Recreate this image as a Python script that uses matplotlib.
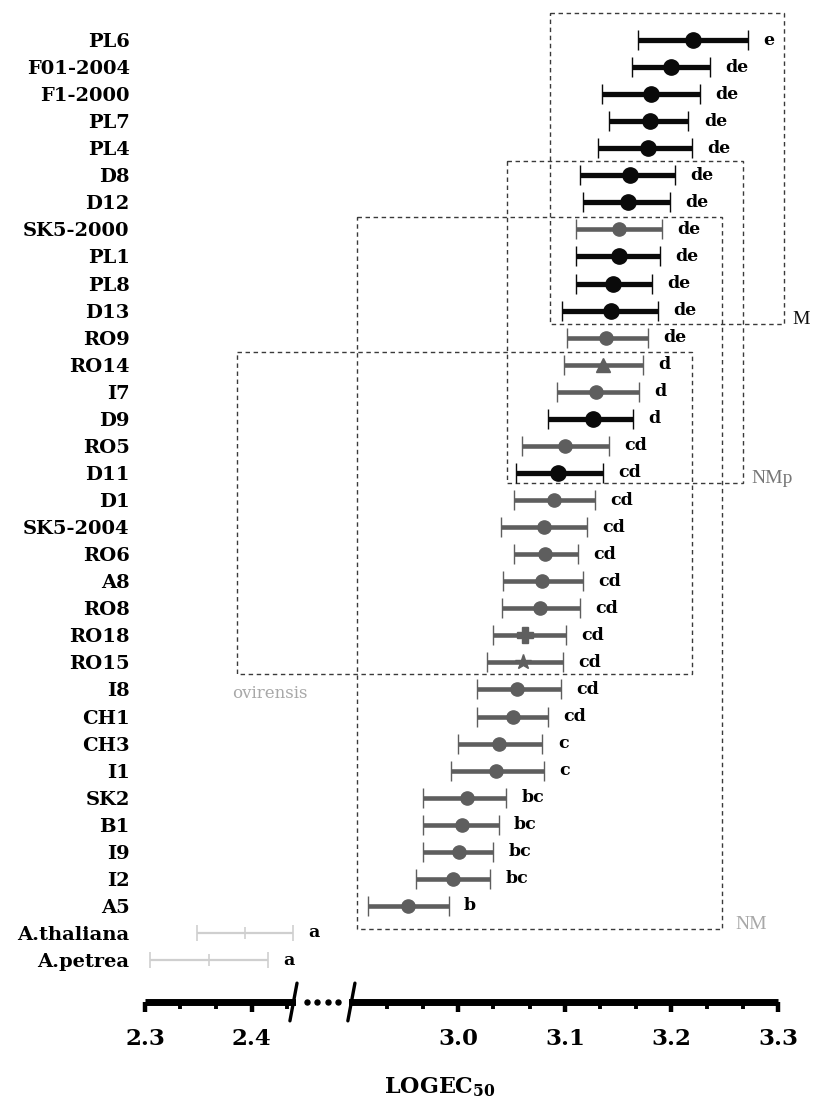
import numpy as np
import matplotlib
matplotlib.use('Agg')
import matplotlib.pyplot as plt
from matplotlib.patches import Rectangle
from matplotlib.ticker import FixedLocator, FixedFormatter

" DATA "

# populations, top to bottom
labels = ['PL6', 'F01-2004', 'F1-2000', 'PL7', 'PL4', 'D8', 'D12', 'SK5-2000',
          'PL1', 'PL8', 'D13', 'RO9', 'RO14', 'I7', 'D9', 'RO5', 'D11', 'D1',
          'SK5-2004', 'RO6', 'A8', 'RO8', 'RO18', 'RO15', 'I8', 'CH1', 'CH3',
          'I1', 'SK2', 'B1', 'I9', 'I2', 'A5', 'A.thaliana', 'A.petrea']

# log EC50 mean and interval ends
mean = [3.220, 3.200, 3.181, 3.180, 3.178, 3.161, 3.159, 3.151, 3.151, 3.145,
        3.143, 3.139, 3.136, 3.129, 3.126, 3.100, 3.094, 3.090, 3.080, 3.081,
        3.079, 3.077, 3.063, 3.061, 3.055, 3.051, 3.038, 3.035, 3.008, 3.003,
        3.001, 2.995, 2.953, 2.394, 2.360]
lower = [3.169, 3.163, 3.135, 3.141, 3.131, 3.114, 3.117, 3.110, 3.110, 3.110,
         3.097, 3.102, 3.099, 3.093, 3.084, 3.060, 3.054, 3.052, 3.040, 3.052,
         3.042, 3.041, 3.033, 3.027, 3.018, 3.018, 3.000, 2.993, 2.967, 2.967,
         2.967, 2.960, 2.915, 2.349, 2.305]
upper = [3.272, 3.236, 3.227, 3.216, 3.219, 3.203, 3.199, 3.191, 3.189, 3.182,
         3.187, 3.178, 3.173, 3.170, 3.164, 3.141, 3.136, 3.128, 3.121, 3.112,
         3.117, 3.114, 3.101, 3.098, 3.096, 3.084, 3.079, 3.080, 3.045, 3.038,
         3.033, 3.030, 2.991, 2.439, 2.415]

# significance groups
groups = ['e', 'de', 'de', 'de', 'de', 'de', 'de', 'de', 'de', 'de', 'de', 'de',
          'd', 'd', 'd', 'cd', 'cd', 'cd', 'cd', 'cd', 'cd', 'cd', 'cd', 'cd',
          'cd', 'cd', 'c', 'c', 'bc', 'bc', 'bc', 'bc', 'b', 'a', 'a']

# k = black (M), g = grey (NM), l = outgroup species
kind = ['k', 'k', 'k', 'k', 'k', 'k', 'k', 'g', 'k', 'k', 'k', 'g', 'g', 'g',
        'k', 'g', 'k', 'g', 'g', 'g', 'g', 'g', 'g', 'g', 'g', 'g', 'g', 'g',
        'g', 'g', 'g', 'g', 'g', 'l', 'l']

# dashed group boxes: name, x from, x to, row from, row to
box_names = ['M', 'NMp', 'ovirensis', 'NM']
box_x0 = [3.086, 3.046, 2.386, 2.905]
box_x1 = [3.306, 3.267, 3.219, 3.247]
box_r0 = [-1.0, 4.47, 11.53, 6.54]
box_r1 = [10.5, 16.37, 23.43, 32.85]

major_ticks = [2.3, 2.4, 3.0, 3.1, 3.2, 3.3]
major_labels = ['2.3', '2.4', '3.0', '3.1', '3.2', '3.3']
minor_ticks = [2.333, 2.367, 2.433, 2.933, 2.967, 3.033, 3.067,
               3.133, 3.167, 3.233, 3.267]

# axis break
BREAK_LO = 2.442
BREAK_HI = 2.897
GAP = 0.049

" STYLE "

colors = {'k': '#0a0a0a', 'g': '#5e5e5e', 'l': '#cfcfcf'}
markers = {'RO14': '^', 'RO18': 'P', 'RO15': '*'}
box_label_colors = {'M': '#111111', 'NMp': '#777777',
                    'ovirensis': '#a8a8a8', 'NM': '#a8a8a8'}

plt.rcParams['mathtext.fontset'] = 'dejavuserif'
SERIF = ['DejaVu Serif']


def fwd(x):
    xs = [1.0, BREAK_LO, BREAK_HI, 5.0]
    ps = [1.0, BREAK_LO, BREAK_LO + GAP, BREAK_LO + GAP + 5.0 - BREAK_HI]
    return np.interp(x, xs, ps)


def inv(p):
    xs = [1.0, BREAK_LO, BREAK_HI, 5.0]
    ps = [1.0, BREAK_LO, BREAK_LO + GAP, BREAK_LO + GAP + 5.0 - BREAK_HI]
    return np.interp(p, ps, xs)


fig = plt.figure(figsize=(8.18, 11), dpi=100)
ax = fig.add_axes([145 / 818, 98 / 1100, 633 / 818, 992 / 1100])
ax.set_xscale('function', functions=(fwd, inv))
ax.set_xlim(2.3, 3.3)
ax.set_ylim(35.55, -1.109)

rows = np.arange(len(labels))

for i in rows:
    k = kind[i]
    m = markers.get(labels[i], 'o')
    if k == 'k':
        lw, ms, cs, ct = 3.8, 11, 7, 3.4
    elif k == 'g':
        lw, ms, cs, ct = 3.3, 9.5, 7, 3.0
    else:
        lw, ms, cs, ct = 1.6, 0, 5.5, 1.4
    if m in ('*', 'P'):
        ms = ms + 2
    ax.errorbar(mean[i], i,
                xerr=[[mean[i] - lower[i]], [upper[i] - mean[i]]],
                fmt=m if k != 'l' else '|', color=colors[k], ecolor=colors[k],
                ms=ms if k != 'l' else 9, mew=1.0 if k != 'l' else 1.2,
                elinewidth=lw, capsize=cs, capthick=ct, zorder=3)
    ax.annotate(groups[i], (upper[i], i), xytext=(11, 0),
                textcoords='offset points', ha='left', va='center',
                fontsize=12.5, fontweight='bold', family=SERIF, color='black')

# group boxes
for j in range(len(box_names)):
    rect = Rectangle((box_x0[j], box_r0[j]), box_x1[j] - box_x0[j],
                     box_r1[j] - box_r0[j], fill=False, ec='#3a3a3a',
                     lw=1.0, ls=(0, (3.2, 2.6)), zorder=1, clip_on=False)
    ax.add_patch(rect)
    name = box_names[j]
    if name == 'ovirensis':
        ax.annotate(name, (box_x0[j], box_r1[j]), xytext=(-3, -8),
                    textcoords='offset points', ha='left', va='top',
                    fontsize=12, family=SERIF, color=box_label_colors[name],
                    annotation_clip=False)
    else:
        off = 10 if name == 'NM' else 6
        ax.annotate(name, (box_x1[j], box_r1[j]), xytext=(off, 0),
                    textcoords='offset points', ha='left', va='baseline',
                    fontsize=14, family=['Liberation Serif', 'DejaVu Serif'],
                    color=box_label_colors[name], annotation_clip=False)

# axes
ax.set_yticks(rows)
ax.set_yticklabels(labels, fontsize=14, fontweight='bold', family=SERIF)
ax.tick_params(axis='y', length=0, pad=11)

ax.xaxis.set_major_locator(FixedLocator(major_ticks))
ax.xaxis.set_major_formatter(FixedFormatter(major_labels))
ax.xaxis.set_minor_locator(FixedLocator(minor_ticks))
ax.tick_params(axis='x', which='major', length=7, width=3.2, pad=12,
               labelsize=16.5)
ax.tick_params(axis='x', which='minor', length=5, width=2.8)
for lab in ax.get_xticklabels():
    lab.set_fontweight('bold')
    lab.set_family(SERIF)

for s in ['top', 'right', 'left']:
    ax.spines[s].set_visible(False)
ax.spines['bottom'].set_linewidth(5)
ax.spines['bottom'].set_capstyle('butt')

# the break in the axis
xt = ax.get_xaxis_transform()
ax.axvspan(BREAK_LO, BREAK_HI, ymin=-0.03, ymax=0.02, color='white',
           clip_on=False, zorder=3, lw=0)
for b in (BREAK_LO, BREAK_HI):
    ax.plot([b - 0.006, b + 0.006], [-0.019, 0.019], transform=xt,
            color='black', lw=2.4, clip_on=False, zorder=4,
            solid_capstyle='round')
dots = np.linspace(BREAK_LO, BREAK_HI, 6)[1:-1]
ax.plot(dots, np.zeros(len(dots)), 'o', transform=xt, color='black', ms=3.6,
        clip_on=False, zorder=4)

ax.set_xlabel(r'LOGEC$_{\mathbf{50}}$', fontsize=16, fontweight='bold',
              family=SERIF)
ax.xaxis.set_label_coords(0.466, -0.074)

fig.savefig('out.png', dpi=100)
